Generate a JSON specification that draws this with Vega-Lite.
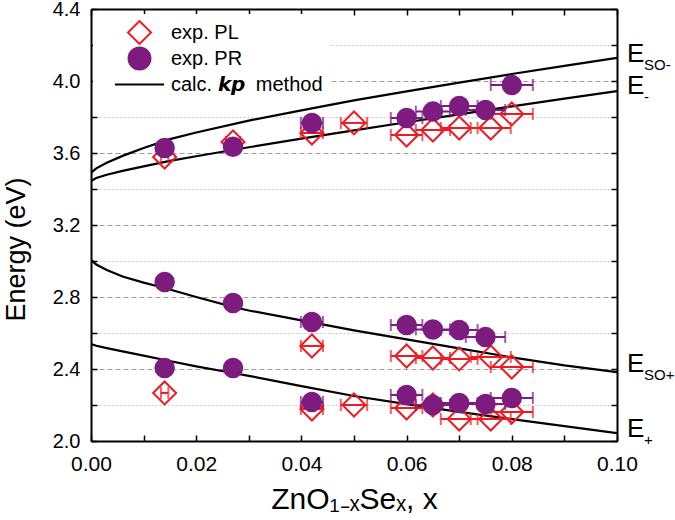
{
  "$schema": "https://vega.github.io/schema/vega-lite/v6.json",
  "width": 526,
  "height": 432,
  "autosize": "none",
  "padding": {"left": 91, "top": 9, "right": 58, "bottom": 79},
  "config": {
    "font": "Liberation Sans",
    "view": {"stroke": null},
    "axis": {"labelFont": "Liberation Sans", "titleFont": "Liberation Sans", "titleColor": "black", "labelColor": "black", "tickColor": "black", "domainColor": "black"}
  },
  "datasets": {
    "curves": [
      {"curve": "ESO-", "series": "calc", "x": 0, "y": 3.490},
      {"curve": "ESO-", "series": "calc", "x": 0.001, "y": 3.515},
      {"curve": "ESO-", "series": "calc", "x": 0.003, "y": 3.546},
      {"curve": "ESO-", "series": "calc", "x": 0.006, "y": 3.584},
      {"curve": "ESO-", "series": "calc", "x": 0.01, "y": 3.628},
      {"curve": "ESO-", "series": "calc", "x": 0.015, "y": 3.677},
      {"curve": "ESO-", "series": "calc", "x": 0.02, "y": 3.714},
      {"curve": "ESO-", "series": "calc", "x": 0.03, "y": 3.780},
      {"curve": "ESO-", "series": "calc", "x": 0.04, "y": 3.837},
      {"curve": "ESO-", "series": "calc", "x": 0.05, "y": 3.892},
      {"curve": "ESO-", "series": "calc", "x": 0.06, "y": 3.942},
      {"curve": "ESO-", "series": "calc", "x": 0.07, "y": 3.991},
      {"curve": "ESO-", "series": "calc", "x": 0.08, "y": 4.039},
      {"curve": "ESO-", "series": "calc", "x": 0.09, "y": 4.084},
      {"curve": "ESO-", "series": "calc", "x": 0.1, "y": 4.128},
      {"curve": "E-", "series": "calc", "x": 0, "y": 3.444},
      {"curve": "E-", "series": "calc", "x": 0.001, "y": 3.461},
      {"curve": "E-", "series": "calc", "x": 0.003, "y": 3.479},
      {"curve": "E-", "series": "calc", "x": 0.006, "y": 3.501},
      {"curve": "E-", "series": "calc", "x": 0.01, "y": 3.526},
      {"curve": "E-", "series": "calc", "x": 0.015, "y": 3.556},
      {"curve": "E-", "series": "calc", "x": 0.02, "y": 3.582},
      {"curve": "E-", "series": "calc", "x": 0.03, "y": 3.632},
      {"curve": "E-", "series": "calc", "x": 0.04, "y": 3.680},
      {"curve": "E-", "series": "calc", "x": 0.05, "y": 3.726},
      {"curve": "E-", "series": "calc", "x": 0.06, "y": 3.771},
      {"curve": "E-", "series": "calc", "x": 0.07, "y": 3.815},
      {"curve": "E-", "series": "calc", "x": 0.08, "y": 3.859},
      {"curve": "E-", "series": "calc", "x": 0.09, "y": 3.902},
      {"curve": "E-", "series": "calc", "x": 0.1, "y": 3.944},
      {"curve": "ESO+", "series": "calc", "x": 0, "y": 3.006},
      {"curve": "ESO+", "series": "calc", "x": 0.001, "y": 2.980},
      {"curve": "ESO+", "series": "calc", "x": 0.003, "y": 2.950},
      {"curve": "ESO+", "series": "calc", "x": 0.006, "y": 2.914},
      {"curve": "ESO+", "series": "calc", "x": 0.01, "y": 2.880},
      {"curve": "ESO+", "series": "calc", "x": 0.014, "y": 2.850},
      {"curve": "ESO+", "series": "calc", "x": 0.02, "y": 2.800},
      {"curve": "ESO+", "series": "calc", "x": 0.027, "y": 2.745},
      {"curve": "ESO+", "series": "calc", "x": 0.03, "y": 2.725},
      {"curve": "ESO+", "series": "calc", "x": 0.04, "y": 2.670},
      {"curve": "ESO+", "series": "calc", "x": 0.05, "y": 2.615},
      {"curve": "ESO+", "series": "calc", "x": 0.06, "y": 2.565},
      {"curve": "ESO+", "series": "calc", "x": 0.07, "y": 2.515},
      {"curve": "ESO+", "series": "calc", "x": 0.08, "y": 2.465},
      {"curve": "ESO+", "series": "calc", "x": 0.09, "y": 2.420},
      {"curve": "ESO+", "series": "calc", "x": 0.1, "y": 2.383},
      {"curve": "E+", "series": "calc", "x": 0, "y": 2.539},
      {"curve": "E+", "series": "calc", "x": 0.001, "y": 2.529},
      {"curve": "E+", "series": "calc", "x": 0.003, "y": 2.516},
      {"curve": "E+", "series": "calc", "x": 0.006, "y": 2.498},
      {"curve": "E+", "series": "calc", "x": 0.01, "y": 2.474},
      {"curve": "E+", "series": "calc", "x": 0.014, "y": 2.450},
      {"curve": "E+", "series": "calc", "x": 0.02, "y": 2.415},
      {"curve": "E+", "series": "calc", "x": 0.027, "y": 2.378},
      {"curve": "E+", "series": "calc", "x": 0.03, "y": 2.362},
      {"curve": "E+", "series": "calc", "x": 0.04, "y": 2.305},
      {"curve": "E+", "series": "calc", "x": 0.05, "y": 2.250},
      {"curve": "E+", "series": "calc", "x": 0.06, "y": 2.205},
      {"curve": "E+", "series": "calc", "x": 0.07, "y": 2.162},
      {"curve": "E+", "series": "calc", "x": 0.08, "y": 2.122},
      {"curve": "E+", "series": "calc", "x": 0.09, "y": 2.083},
      {"curve": "E+", "series": "calc", "x": 0.1, "y": 2.044}
    ],
    "pl": [
      {"x": 0.014, "y": 3.578, "xlo": 0.0133, "xhi": 0.0147},
      {"x": 0.014, "y": 2.267, "xlo": 0.0133, "xhi": 0.0147},
      {"x": 0.027, "y": 3.661, "xlo": 0.02565, "xhi": 0.02835},
      {"x": 0.042, "y": 3.711, "xlo": 0.0399, "xhi": 0.0441},
      {"x": 0.042, "y": 2.528, "xlo": 0.0399, "xhi": 0.0441},
      {"x": 0.042, "y": 2.178, "xlo": 0.0399, "xhi": 0.0441},
      {"x": 0.05, "y": 3.767, "xlo": 0.0475, "xhi": 0.0525},
      {"x": 0.05, "y": 2.200, "xlo": 0.0475, "xhi": 0.0525},
      {"x": 0.06, "y": 3.700, "xlo": 0.057, "xhi": 0.063},
      {"x": 0.06, "y": 2.472, "xlo": 0.057, "xhi": 0.063},
      {"x": 0.06, "y": 2.183, "xlo": 0.057, "xhi": 0.063},
      {"x": 0.065, "y": 3.728, "xlo": 0.06175, "xhi": 0.06825},
      {"x": 0.065, "y": 2.461, "xlo": 0.06175, "xhi": 0.06825},
      {"x": 0.065, "y": 2.200, "xlo": 0.06175, "xhi": 0.06825},
      {"x": 0.07, "y": 3.739, "xlo": 0.0665, "xhi": 0.0735},
      {"x": 0.07, "y": 2.456, "xlo": 0.0665, "xhi": 0.0735},
      {"x": 0.07, "y": 2.122, "xlo": 0.0665, "xhi": 0.0735},
      {"x": 0.076, "y": 3.739, "xlo": 0.0722, "xhi": 0.0798},
      {"x": 0.076, "y": 2.467, "xlo": 0.0722, "xhi": 0.0798},
      {"x": 0.076, "y": 2.122, "xlo": 0.0722, "xhi": 0.0798},
      {"x": 0.08, "y": 3.817, "xlo": 0.076, "xhi": 0.084},
      {"x": 0.08, "y": 2.411, "xlo": 0.076, "xhi": 0.084},
      {"x": 0.08, "y": 2.161, "xlo": 0.076, "xhi": 0.084}
    ],
    "pr": [
      {"x": 0.014, "y": 3.628, "xlo": 0.0133, "xhi": 0.0147},
      {"x": 0.014, "y": 2.883, "xlo": 0.0133, "xhi": 0.0147},
      {"x": 0.014, "y": 2.406, "xlo": 0.0133, "xhi": 0.0147},
      {"x": 0.027, "y": 3.635, "xlo": 0.02565, "xhi": 0.02835},
      {"x": 0.027, "y": 2.767, "xlo": 0.02565, "xhi": 0.02835},
      {"x": 0.027, "y": 2.406, "xlo": 0.02565, "xhi": 0.02835},
      {"x": 0.042, "y": 3.767, "xlo": 0.0399, "xhi": 0.0441},
      {"x": 0.042, "y": 2.661, "xlo": 0.0399, "xhi": 0.0441},
      {"x": 0.042, "y": 2.217, "xlo": 0.0399, "xhi": 0.0441},
      {"x": 0.06, "y": 3.794, "xlo": 0.057, "xhi": 0.063},
      {"x": 0.06, "y": 2.644, "xlo": 0.057, "xhi": 0.063},
      {"x": 0.06, "y": 2.256, "xlo": 0.057, "xhi": 0.063},
      {"x": 0.065, "y": 3.830, "xlo": 0.06175, "xhi": 0.06825},
      {"x": 0.065, "y": 2.620, "xlo": 0.06175, "xhi": 0.06825},
      {"x": 0.065, "y": 2.200, "xlo": 0.06175, "xhi": 0.06825},
      {"x": 0.07, "y": 3.861, "xlo": 0.0665, "xhi": 0.0735},
      {"x": 0.07, "y": 2.617, "xlo": 0.0665, "xhi": 0.0735},
      {"x": 0.07, "y": 2.211, "xlo": 0.0665, "xhi": 0.0735},
      {"x": 0.075, "y": 3.839, "xlo": 0.07125, "xhi": 0.07875},
      {"x": 0.075, "y": 2.578, "xlo": 0.07125, "xhi": 0.07875},
      {"x": 0.075, "y": 2.206, "xlo": 0.07125, "xhi": 0.07875},
      {"x": 0.08, "y": 3.978, "xlo": 0.076, "xhi": 0.084},
      {"x": 0.08, "y": 2.239, "xlo": 0.076, "xhi": 0.084}
    ],
    "labels": [
      {"x": 0.1, "y": 4.15, "sub": "SO-"},
      {"x": 0.1, "y": 3.975, "sub": "-"},
      {"x": 0.1, "y": 2.428, "sub": "SO+"},
      {"x": 0.1, "y": 2.064, "sub": "+"}
    ]
  },
  "resolve": {"axis": {"x": "independent", "y": "independent"}},
  "layer": [
    {
      "data": {"name": "curves"},
      "mark": {"type": "line", "strokeWidth": 2.2, "clip": true},
      "encoding": {
        "x": {
          "field": "x", "type": "quantitative",
          "scale": {"domain": [0, 0.1], "nice": false, "zero": false},
          "axis": {
            "orient": "bottom",
            "values": [0, 0.01, 0.02, 0.03, 0.04, 0.05, 0.06, 0.07, 0.08, 0.09, 0.1],
            "labelExpr": "round(datum.value*100)%2==0 ? format(datum.value,'.2f') : ''",
            "title": "ZnO₁₋ₓSeₓ, x",
            "titleFontSize": 30, "titleFontWeight": "normal", "titlePadding": 10,
            "labelFontSize": 21, "labelPadding": 18, "labelFlush": false, "labelOverlap": false,
            "tickSize": -6, "tickWidth": 1.5, "domainWidth": 2, "grid": false
          }
        },
        "y": {
          "field": "y", "type": "quantitative",
          "scale": {"domain": [2.0, 4.4], "nice": false, "zero": false},
          "axis": {
            "orient": "left",
            "values": [2.0, 2.2, 2.4, 2.6, 2.8, 3.0, 3.2, 3.4, 3.6, 3.8, 4.0, 4.2, 4.4],
            "labelExpr": "round(datum.value*10)%4==0 ? format(datum.value,'.1f') : ''",
            "title": "Energy (eV)",
            "titleFontSize": 27, "titleFontWeight": "normal", "titlePadding": 22, "titleY": 240,
            "labelFontSize": 20, "labelPadding": 17, "labelOverlap": false,
            "tickSize": -6, "tickWidth": 1.5, "domainWidth": 2,
            "grid": true, "gridWidth": 1,
            "gridColor": {"condition": {"test": "round(datum.value*10)%4==0", "value": "#9a9a9a"}, "value": "#c8c8c8"},
            "gridDash": {"condition": {"test": "round(datum.value*10)%4==0", "value": [5, 3]}, "value": [2, 2]}
          }
        },
        "detail": {"field": "curve"},
        "color": {
          "field": "series", "type": "nominal",
          "scale": {"domain": ["exp. PL", "exp. PR", "calc"], "range": ["#ed1c24", "#7d1b7e", "#000000"]},
          "legend": {
            "orient": "none", "legendX": 2, "legendY": 5, "padding": 6,
            "fillColor": "white", "title": null,
            "labelFontSize": 20, "labelColor": "black", "labelFont": "Liberation Sans", "labelLimit": 300,
            "labelOffset": 19, "symbolOffset": 28, "symbolSize": 500, "rowPadding": 1, "clipHeight": 25,
            "labelExpr": "datum.label == 'calc' ? 'calc. 𝙠𝙥\u00a0 method\u00a0\u00a0\u00a0\u00a0' : datum.label",
            "encode": {
              "symbols": {
                "update": {
                  "fill": {"signal": "datum.value == 'exp. PR' ? '#7d1b7e' : 'transparent'"},
                  "stroke": {"signal": "datum.value == 'exp. PL' ? '#ed1c24' : (datum.value == 'exp. PR' ? '#7d1b7e' : '#000000')"},
                  "strokeWidth": {"value": 2},
                  "opacity": {"value": 1},
                  "shape": {"signal": "datum.value == 'calc' ? 'M-2.2,0L2.2,0' : (datum.value == 'exp. PR' ? 'circle' : 'diamond')"},
                  "size": {"signal": "datum.value == 'exp. PR' ? 480 : (datum.value == 'exp. PL' ? 530 : 500)"}
                }
              }
            }
          }
        }
      }
    },
    {
      "data": {"name": "pl"},
      "mark": {"type": "errorbar", "ticks": true, "color": "#ed1c24", "thickness": 2, "size": 12},
      "encoding": {
        "x": {"field": "xlo", "type": "quantitative", "scale": {"domain": [0, 0.1], "nice": false, "zero": false}, "axis": null},
        "x2": {"field": "xhi"},
        "y": {"field": "y", "type": "quantitative", "scale": {"domain": [2.0, 4.4], "nice": false, "zero": false}, "axis": null}
      }
    },
    {
      "data": {"name": "pl"},
      "mark": {"type": "point", "shape": "diamond", "filled": false, "stroke": "#ed1c24", "strokeWidth": 2, "size": 530, "opacity": 1},
      "encoding": {
        "x": {"field": "x", "type": "quantitative", "scale": {"domain": [0, 0.1], "nice": false, "zero": false}, "axis": null},
        "y": {"field": "y", "type": "quantitative", "scale": {"domain": [2.0, 4.4], "nice": false, "zero": false}, "axis": null}
      }
    },
    {
      "data": {"name": "pr"},
      "mark": {"type": "errorbar", "ticks": true, "color": "#7d1b7e", "thickness": 2, "size": 12},
      "encoding": {
        "x": {"field": "xlo", "type": "quantitative", "scale": {"domain": [0, 0.1], "nice": false, "zero": false}, "axis": null},
        "x2": {"field": "xhi"},
        "y": {"field": "y", "type": "quantitative", "scale": {"domain": [2.0, 4.4], "nice": false, "zero": false}, "axis": null}
      }
    },
    {
      "data": {"name": "pr"},
      "mark": {"type": "point", "shape": "circle", "filled": true, "fill": "#7d1b7e", "strokeWidth": 0, "size": 420, "opacity": 1},
      "encoding": {
        "x": {"field": "x", "type": "quantitative", "scale": {"domain": [0, 0.1], "nice": false, "zero": false}, "axis": null},
        "y": {"field": "y", "type": "quantitative", "scale": {"domain": [2.0, 4.4], "nice": false, "zero": false}, "axis": null}
      }
    },
    {
      "data": {"name": "labels"},
      "mark": {"type": "text", "text": "E", "align": "left", "baseline": "middle", "dx": 10, "fontSize": 26, "color": "black", "font": "Liberation Sans"},
      "encoding": {
        "x": {
          "field": "x", "type": "quantitative", "scale": {"domain": [0, 0.1], "nice": false, "zero": false},
          "axis": {"orient": "top", "values": [0, 0.01, 0.02, 0.03, 0.04, 0.05, 0.06, 0.07, 0.08, 0.09, 0.1], "labels": false, "title": null, "tickSize": -6, "tickWidth": 1.5, "domainWidth": 2, "grid": false}
        },
        "y": {
          "field": "y", "type": "quantitative", "scale": {"domain": [2.0, 4.4], "nice": false, "zero": false},
          "axis": {"orient": "right", "values": [2.0, 2.2, 2.4, 2.6, 2.8, 3.0, 3.2, 3.4, 3.6, 3.8, 4.0, 4.2, 4.4], "labels": false, "title": null, "tickSize": -6, "tickWidth": 1.5, "domainWidth": 2, "grid": false}
        }
      }
    },
    {
      "data": {"name": "labels"},
      "mark": {"type": "text", "align": "left", "baseline": "alphabetic", "dx": 27, "dy": 16, "fontSize": 15, "color": "black", "font": "Liberation Sans"},
      "encoding": {
        "x": {"field": "x", "type": "quantitative", "scale": {"domain": [0, 0.1], "nice": false, "zero": false}, "axis": null},
        "y": {"field": "y", "type": "quantitative", "scale": {"domain": [2.0, 4.4], "nice": false, "zero": false}, "axis": null},
        "text": {"field": "sub"}
      }
    }
  ]
}
